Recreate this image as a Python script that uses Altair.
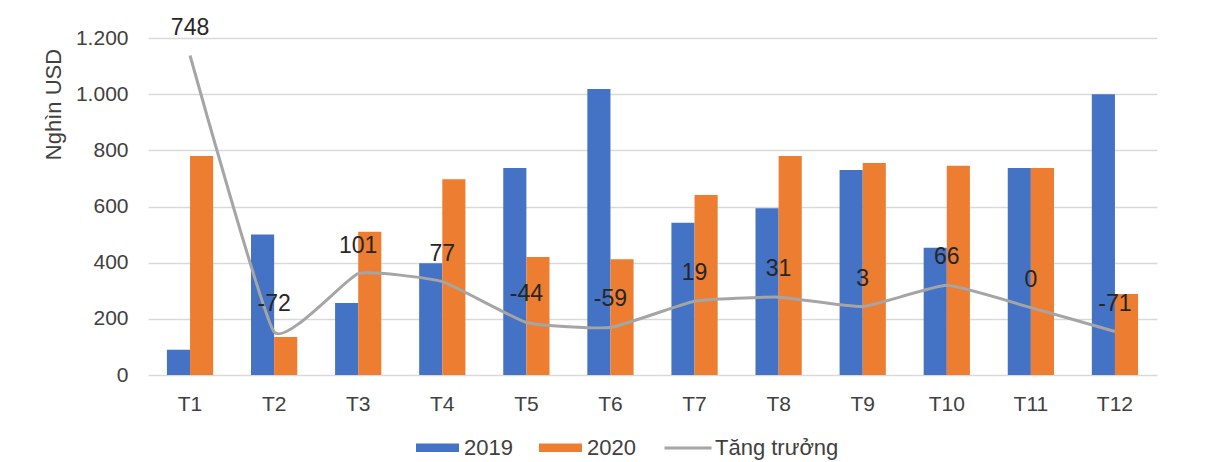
import altair as alt
import pandas as pd

months = ["T1", "T2", "T3", "T4", "T5", "T6", "T7", "T8", "T9", "T10", "T11", "T12"]
v2019 = [90, 500, 256, 398, 737, 1018, 542, 594, 730, 453, 737, 1000]
v2020 = [780, 135, 510, 697, 420, 412, 641, 780, 755, 745, 737, 288]
growth = [748, -72, 101, 77, -44, -59, 19, 31, 3, 66, 0, -71]
years = ["2019", "2020"]
left_ticks = [0, 200, 400, 600, 800, 1000, 1200]
right_ticks = [-200, -100, 0, 100, 200, 300, 400, 500, 600, 700, 800]
series_name = "Tăng trưởng"

bars_df = pd.DataFrame({
    "month": months * 2,
    "year": [years[0]] * 12 + [years[1]] * 12,
    "value": v2019 + v2020,
})
line_df = pd.DataFrame({
    "month": months,
    "growth": growth,
    "label": [str(g) for g in growth],
    "series": [series_name] * 12,
})

W, H = 1009, 337
FONT = "Liberation Sans"
TXT = "#404040"

x_enc = alt.X(
    "month:N", sort=months,
    scale=alt.Scale(paddingInner=0.45, paddingOuter=0.225),
    axis=alt.Axis(title=None, labelAngle=0, ticks=False, domain=False,
                  labelFontSize=21, labelPadding=18, labelColor=TXT),
)

bars = alt.Chart(bars_df).mark_bar().encode(
    x=x_enc,
    xOffset=alt.XOffset("year:N", scale=alt.Scale(paddingInner=0, paddingOuter=0)),
    y=alt.Y("value:Q", scale=alt.Scale(domain=[0, 1200], nice=False),
            axis=alt.Axis(values=left_ticks, title="Nghìn USD", titleFontSize=22,
                          titleFontWeight="normal", titleColor=TXT,
                          titleX=-95, titleY=66, titleAngle=-90, titleBaseline="middle",
                          titleAlign="center",
                          labelFontSize=21, labelColor=TXT, labelPadding=20,
                          ticks=False, domain=False, grid=True, gridColor="#d9d9d9",
                          gridWidth=1.5,
                          labelExpr="replace(format(datum.value, ','), ',', '.')")),
    color=alt.Color("year:N", scale=alt.Scale(domain=years, range=["#4472C4", "#ED7D31"]),
                    legend=alt.Legend(orient="none", legendX=267, legendY=387,
                                      direction="horizontal", title=None,
                                      symbolType="M-1,-0.2H1V0.2H-1Z", symbolSize=1849,
                                      labelFontSize=22, labelColor=TXT, columnPadding=25,
                                      labelOffset=4)),
)

y_right = alt.Y("growth:Q", scale=alt.Scale(domain=[-200, 800], nice=False),
                axis=alt.Axis(orient="right", values=right_ticks, title=None, grid=False,
                              ticks=False, domain=False, labelFontSize=21,
                              labelColor=TXT, labelPadding=20))

line = alt.Chart(line_df).mark_line(interpolate="cardinal", tension=0.6, strokeWidth=3).encode(
    x=x_enc,
    y=y_right,
    stroke=alt.Stroke("series:N", scale=alt.Scale(domain=[series_name], range=["#A5A5A5"]),
                      legend=alt.Legend(orient="none", legendX=515, legendY=385, title=None,
                                        symbolType="stroke", symbolSize=2209,
                                        symbolStrokeWidth=3, labelFontSize=22,
                                        labelColor=TXT, labelOffset=2)),
)

labels = alt.Chart(line_df).mark_text(dy=-28, fontSize=23, color="#262626").encode(
    x=x_enc,
    y=alt.Y("growth:Q", scale=alt.Scale(domain=[-200, 800], nice=False), axis=None),
    text="label:N",
)

chart = alt.layer(bars, alt.layer(line, labels)).resolve_scale(y="independent").properties(
    width=W, height=H,
    padding={"left": 148, "top": 38, "right": 67, "bottom": 87},
    autosize=alt.AutoSizeParams(type="none"),
    background="white",
).configure(font=FONT).configure_view(stroke=None)

chart.save("out.html", embed_options={"renderer": "svg", "actions": False})
